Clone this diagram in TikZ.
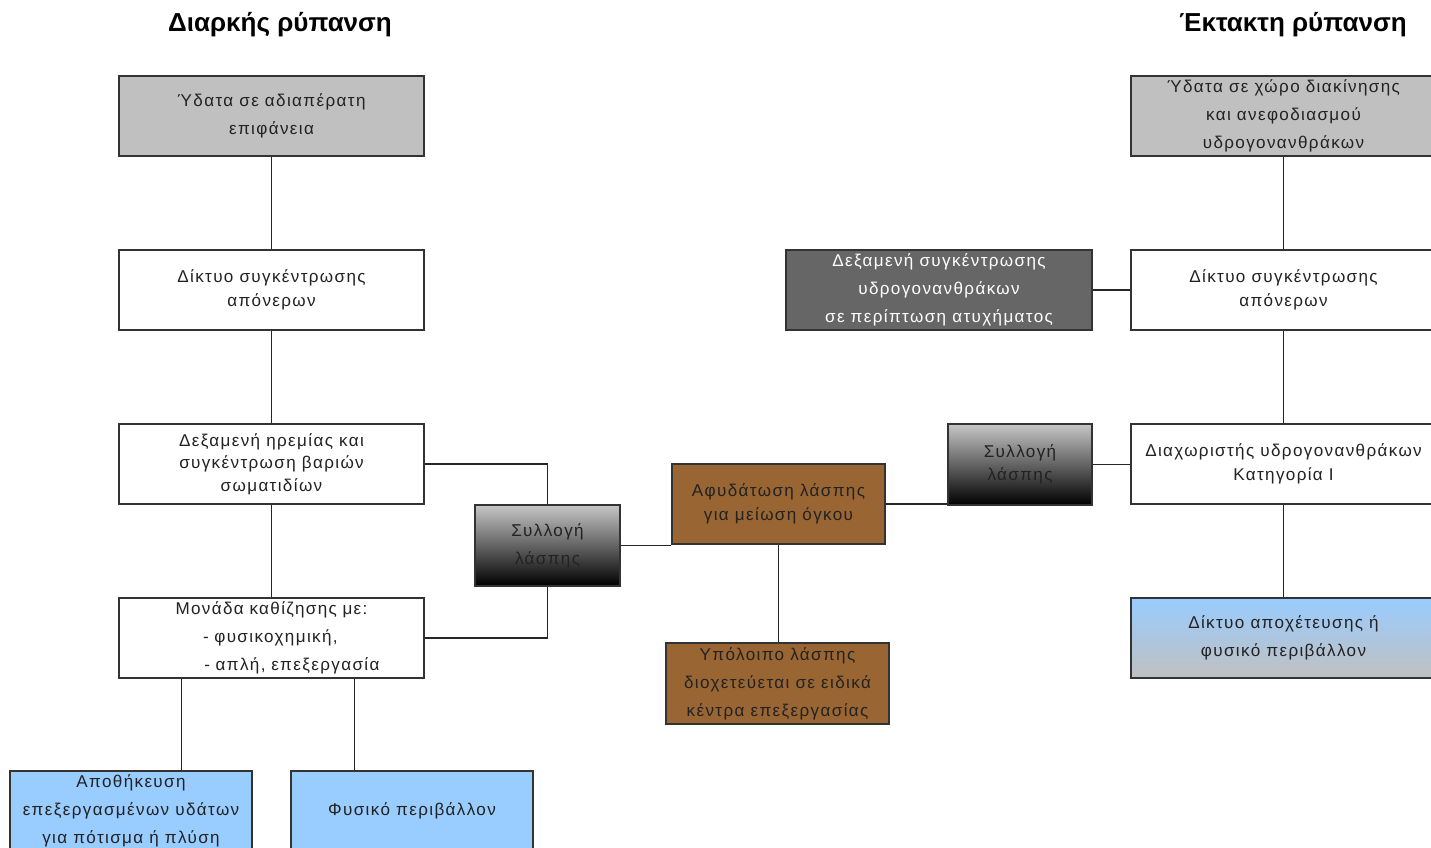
\documentclass[tikz,border=0pt]{standalone}
\usepackage{fontspec}
\setmainfont{Liberation Sans}[LetterSpace=8]
\newfontfamily\titlefont{Liberation Sans}[Scale=1]
\definecolor{lgray}{HTML}{C0C0C0}
\definecolor{lblue}{HTML}{99CCFF}
\definecolor{brownbox}{HTML}{996633}
\definecolor{dgray}{HTML}{666666}
\definecolor{txt}{HTML}{222222}
\tikzset{
  x=0.75pt, y=-0.75pt,
  box/.style={draw=black!80, line width=0.9pt, inner sep=0pt, align=center, text=txt,
    font=\fontsize{12.8}{21}\selectfont},
  tight/.style={font=\fontsize{12.8}{17.5}\selectfont},
  wcol/.style={box, minimum width=228.75pt, minimum height=60pt},
  conn/.style={draw=black!85, line width=0.9pt},
  title/.style={font=\titlefont\bfseries\fontsize{19.5}{22}\selectfont, text=black}
}
\begin{document}
\begin{tikzpicture}
\useasboundingbox (0,0) rectangle (1431,848);
\clip (0,0) rectangle (1431,848);
\fill[white] (0,0) rectangle (1431,848);

\node[title] (t1) at (280,25) {Διαρκής ρύπανση};
\node[title] (t2) at (1293,25) {Έκτακτη ρύπανση};

% left column
\node[wcol, fill=lgray] (L1) at (271.5,116) {Ύδατα σε αδιαπέρατη\\επιφάνεια};
\node[wcol, fill=white, tight] (L2) at (271.5,290) {Δίκτυο συγκέντρωσης\\απόνερων};
\node[wcol, fill=white, font=\fontsize{12.8}{16.8}\selectfont] (L3) at (271.5,464) {Δεξαμενή ηρεμίας και\\συγκέντρωση βαριών\\σωματιδίων};
\node[wcol, fill=white, text width=228.75pt, align=left] (L4) at (271.5,638)
  {\makebox[\linewidth][c]{Μονάδα καθίζησης με:}\\\hspace*{63pt}- φυσικοχημική,\\\hspace*{64pt}- απλή, επεξεργασία};
\node[box, fill=lblue, minimum width=181.5pt, minimum height=60pt] (B5) at (131,811)
  {Αποθήκευση\\επεξεργασμένων υδάτων\\για πότισμα ή πλύση};
\node[box, fill=lblue, minimum width=181.5pt, minimum height=60pt] (B6) at (412,811) {Φυσικό περιβάλλον};

% sludge
\node[box, top color=lgray!90, bottom color=black, minimum width=108.75pt, minimum height=60.75pt] (SL) at (547.5,545.5) {Συλλογή\\λάσπης};
\node[box, fill=brownbox, tight, minimum width=159.75pt, minimum height=60pt] (Af) at (778.5,504) {Αφυδάτωση λάσπης\\για μείωση όγκου};
\node[box, fill=brownbox, minimum width=167.25pt, minimum height=60.75pt] (Yp) at (777.5,683.5) {Υπόλοιπο λάσπης\\διοχετεύεται σε ειδικά\\κέντρα επεξεργασίας};
\node[box, tight, top color=lgray!90, bottom color=black, minimum width=108pt, minimum height=60.75pt] (SR) at (1020,464.5) {Συλλογή\\λάσπης};

% right column
\node[wcol, fill=lgray] (R1) at (1283.5,116) {Ύδατα σε χώρο διακίνησης\\και ανεφοδιασμού\\υδρογονανθράκων};
\node[wcol, fill=white, tight] (R2) at (1283.5,290) {Δίκτυο συγκέντρωσης\\απόνερων};
\node[wcol, fill=white, tight] (R3) at (1283.5,464) {Διαχωριστής υδρογονανθράκων\\Κατηγορία Ι};
\node[wcol, top color=lblue, bottom color=lgray] (R4) at (1283.5,638) {Δίκτυο αποχέτευσης ή\\φυσικό περιβάλλον};
\node[box, fill=dgray, text=white, minimum width=229.5pt, minimum height=60pt] (DK) at (939,290)
  {Δεξαμενή συγκέντρωσης\\υδρογονανθράκων\\σε περίπτωση ατυχήματος};

% connectors
\draw[conn] (L1.south) -- (L2.north);
\draw[conn] (L2.south) -- (L3.north);
\draw[conn] (L3.south) -- (L4.north);
\draw[conn] (L3.east) -| (SL.north);
\draw[conn] (L4.east) -| (SL.south);
\draw[conn] (L4.south west) ++(63,0) coordinate (c1) -- (c1 |- B5.north);
\draw[conn] (L4.south west) ++(236,0) coordinate (c2) -- (c2 |- B6.north);
\draw[conn] (SL.east) -- (SL.east -| Af.west);
\draw[conn] (Af.south) -- (Af.south |- Yp.north);
\draw[conn] (Af.east) -- (Af.east -| SR.west);
\draw[conn] (SR.east) -- (SR.east -| R3.west);
\draw[conn] (DK.east) -- (R2.west);
\draw[conn] (R1.south) -- (R2.north);
\draw[conn] (R2.south) -- (R3.north);
\draw[conn] (R3.south) -- (R4.north);
\end{tikzpicture}
\end{document}
